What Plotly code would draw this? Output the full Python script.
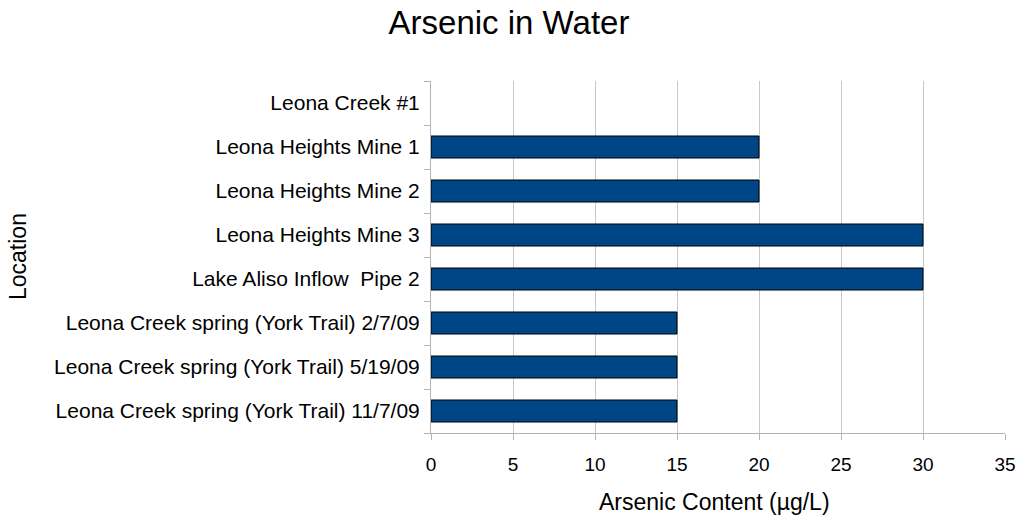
import plotly.graph_objects as go

locations = [
    "Leona Creek #1",
    "Leona Heights Mine 1",
    "Leona Heights Mine 2",
    "Leona Heights Mine 3",
    "Lake Aliso Inflow  Pipe 2",
    "Leona Creek spring (York Trail) 2/7/09",
    "Leona Creek spring (York Trail) 5/19/09",
    "Leona Creek spring (York Trail) 11/7/09",
]
arsenic = [None, 20, 20, 30, 30, 15, 15, 15]
x_ticks = [0, 5, 10, 15, 20, 25, 30, 35]

fig = go.Figure(
    go.Bar(
        y=locations,
        x=arsenic,
        orientation="h",
        width=0.5,
        marker=dict(color="#004586", line=dict(color="#000000", width=1)),
    )
)

W, H = 1020, 524
font = "Liberation Sans, Arial, sans-serif"
fig.update_layout(
    width=W,
    height=H,
    plot_bgcolor="white",
    paper_bgcolor="white",
    margin=dict(l=431, r=15, t=81, b=91),
    showlegend=False,
    title=dict(
        text="Arsenic in Water",
        x=509 / W,
        xref="container",
        xanchor="center",
        y=1 - 22 / H,
        yref="container",
        yanchor="middle",
        font=dict(family=font, size=33, color="black"),
    ),
    font=dict(family=font, size=21, color="black"),
    annotations=[
        dict(
            text="Location",
            x=0, y=0.5, xref="paper", yref="paper",
            xanchor="center", yanchor="middle",
            xshift=18 - 431, textangle=-90, showarrow=False,
            font=dict(family=font, size=23, color="black"),
        ),
        dict(
            text="Arsenic Content (µg/L)",
            x=0.5, y=0, xref="paper", yref="paper",
            xanchor="center", yanchor="middle",
            xshift=-4, yshift=-69, showarrow=False,
            font=dict(family=font, size=23, color="black"),
        ),
    ],
)
fig.update_xaxes(
    range=[0, 35],
    tickvals=x_ticks,
    ticks="outside",
    ticklen=6,
    tickcolor="#b3b3b3",
    showgrid=True,
    gridcolor="#c8c8c8",
    showline=True,
    linecolor="#b3b3b3",
    zeroline=False,
    tickfont=dict(size=19),
    ticklabelstandoff=8,
    automargin=False,
)
fig.update_yaxes(
    categoryorder="array",
    categoryarray=locations[::-1],
    ticks="outside",
    ticklen=6,
    tickcolor="#b3b3b3",
    showline=True,
    linecolor="#b3b3b3",
    showgrid=False,
    tickson="boundaries",
    tickfont=dict(size=21),
    ticklabelstandoff=6,
    automargin=False,
)

fig.write_html(
    "out.html",
    config={"displayModeBar": False},
    post_script="document.body.style.margin='0';document.body.style.overflow='hidden';",
)
